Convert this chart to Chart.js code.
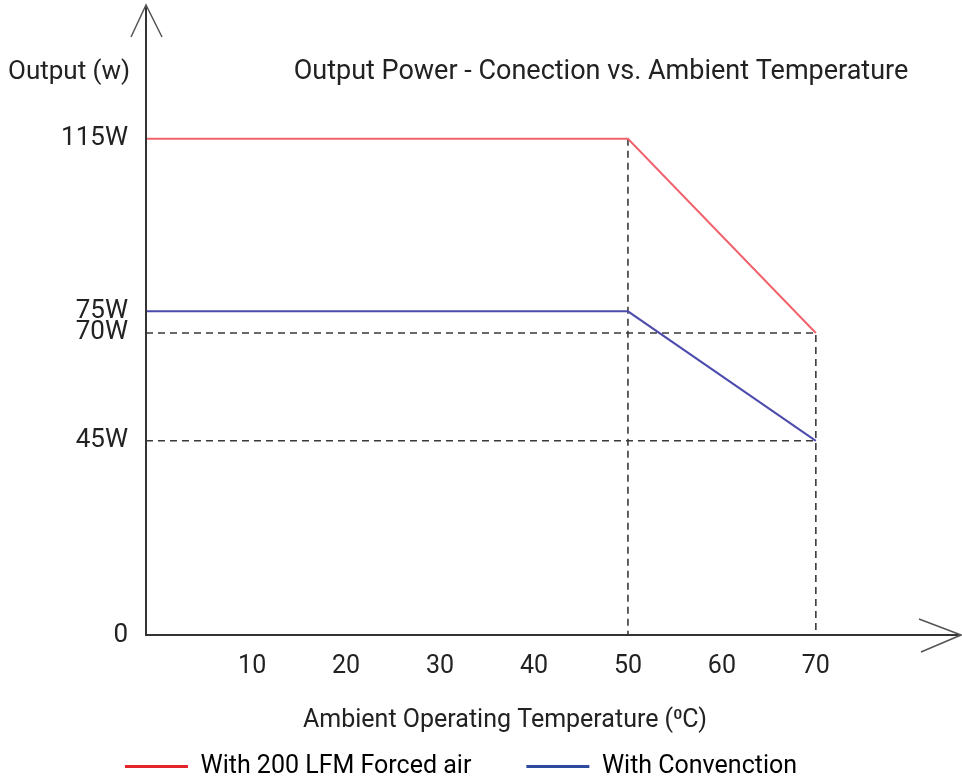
<!DOCTYPE html>
<html lang="en">
<head>
<meta charset="UTF-8">
<title>Output Power - Conection vs. Ambient Temperature</title>
<style>
    body {
        margin: 0;
        padding: 0;
        background-color: #fff;
    }
    #derating {
        display: block;
    }
</style>
</head>
<body>
<canvas id="derating" width="962" height="784"></canvas>
<script src="https://cdn.jsdelivr.net/npm/chart.js"></script>
<script>
// axis range (the x axis starts a little left of 0, like the drawing)
const X_MIN = -1.3;
const X_MAX = 81.3;
const Y_MAX = 146;

const xTicks = [10, 20, 30, 40, 50, 60, 70];
const yTicks = [0, 45, 70, 75, 115];
const yTickLabels = ['0', '45W', '70W', '75W', '115W'];

// series
const forcedAirTemp = [X_MIN, 50, 70];
const forcedAirWatts = [115, 115, 70];
const convectionTemp = [X_MIN, 50, 70];
const convectionWatts = [75, 75, 45];

// dashed guide lines
const guide70Temp = [X_MIN, 70, 70];
const guide70Watts = [70, 70, 0];
const guide45Temp = [X_MIN, 70];
const guide45Watts = [45, 45];
const guide50Temp = [50, 50];
const guide50Watts = [115, 0];

const seriesLabels = ['With 200 LFM Forced air', 'With Convenction'];
const legendColors = ['#e3242b', '#2e4a9e'];

const FONT = 'Roboto';
const TEXT = '#222';

function pts(xs, ys) {
    return xs.map((x, i) => ({ x: x, y: ys[i] }));
}

function guide(xs, ys) {
    return {
        data: pts(xs, ys),
        borderColor: '#3a3a3a',
        borderWidth: 1.6,
        borderDash: [7, 5],
        pointRadius: 0,
        fill: false
    };
}

// no extra room for the end tick labels, the arrows need the space
function noEdgePadding(scale) {
    scale.paddingTop = 0;
    scale.paddingBottom = 0;
    scale.paddingLeft = 0;
    scale.paddingRight = 0;
}

// axis lines with open arrow heads + free texts
const axisArrows = {
    id: 'axisArrows',
    afterDraw(chart) {
        const ctx = chart.ctx;
        const a = chart.chartArea;
        const x0 = a.left, y0 = a.bottom;
        const xEnd = chart.width - 1;
        ctx.save();
        ctx.strokeStyle = '#333';
        ctx.lineWidth = 2;
        ctx.beginPath();
        ctx.moveTo(x0, a.top);
        ctx.lineTo(x0, y0);
        ctx.lineTo(xEnd, y0);
        ctx.stroke();

        ctx.strokeStyle = '#555';
        ctx.lineWidth = 1.5;
        ctx.beginPath();
        ctx.moveTo(x0 - 15, a.top + 32);
        ctx.lineTo(x0, a.top);
        ctx.lineTo(x0 + 16, a.top + 32);
        ctx.moveTo(xEnd - 42, y0 - 16);
        ctx.lineTo(xEnd, y0);
        ctx.lineTo(xEnd - 40, y0 + 17);
        ctx.stroke();

        ctx.fillStyle = TEXT;
        ctx.textBaseline = 'alphabetic';
        ctx.font = '26px ' + FONT;
        ctx.textAlign = 'left';
        ctx.fillText('Output (w)', 8, 79);
        ctx.textAlign = 'center';
        ctx.font = '27px ' + FONT;
        ctx.fillText('Output Power - Conection vs. Ambient Temperature', 601, 79);
        ctx.font = '25px ' + FONT;
        ctx.fillText('Ambient Operating Temperature (\u2070C)', 505, 727);
        ctx.restore();
    }
};

const chart = new Chart(document.getElementById('derating'), {
    type: 'line',
    data: {
        datasets: [
            {
                label: seriesLabels[0],
                data: pts(forcedAirTemp, forcedAirWatts),
                borderColor: '#f0626c',
                borderWidth: 2,
                pointRadius: 0,
                fill: false
            },
            {
                label: seriesLabels[1],
                data: pts(convectionTemp, convectionWatts),
                borderColor: '#4c4cae',
                borderWidth: 2,
                pointRadius: 0,
                fill: false
            },
            guide(guide70Temp, guide70Watts),
            guide(guide45Temp, guide45Watts),
            guide(guide50Temp, guide50Watts)
        ]
    },
    options: {
        responsive: false,
        animation: false,
        layout: {
            padding: { top: 5, right: 40, left: 0, bottom: -5 }
        },
        scales: {
            x: {
                type: 'linear',
                min: X_MIN,
                max: X_MAX,
                afterBuildTicks: scale => { scale.ticks = xTicks.map(v => ({ value: v })); },
                afterFit: scale => { scale.height = 64; noEdgePadding(scale); },
                grid: { display: false, drawTicks: false },
                border: { display: false },
                ticks: {
                    autoSkip: false,
                    maxRotation: 0,
                    padding: 17,
                    color: TEXT,
                    font: { family: FONT, size: 25 }
                }
            },
            y: {
                type: 'linear',
                min: 0,
                max: Y_MAX,
                afterBuildTicks: scale => { scale.ticks = yTicks.map(v => ({ value: v })); },
                afterFit: scale => { scale.width = 146; noEdgePadding(scale); },
                grid: { display: false, drawTicks: false },
                border: { display: false },
                ticks: {
                    autoSkip: false,
                    padding: 18,
                    color: TEXT,
                    font: { family: FONT, size: 26 },
                    callback: (v, i) => yTickLabels[i]
                }
            }
        },
        plugins: {
            tooltip: { enabled: false },
            legend: {
                position: 'bottom',
                labels: {
                    boxWidth: 63,
                    boxHeight: 3,
                    padding: 55,
                    color: TEXT,
                    font: { family: FONT, size: 25 },
                    generateLabels: c => c.data.datasets.slice(0, 2).map((ds, i) => ({
                        text: ds.label,
                        fillStyle: legendColors[i],
                        strokeStyle: legendColors[i],
                        lineWidth: 0,
                        hidden: false,
                        datasetIndex: i
                    }))
                }
            }
        }
    },
    plugins: [axisArrows]
});
</script>
</body>
</html>
